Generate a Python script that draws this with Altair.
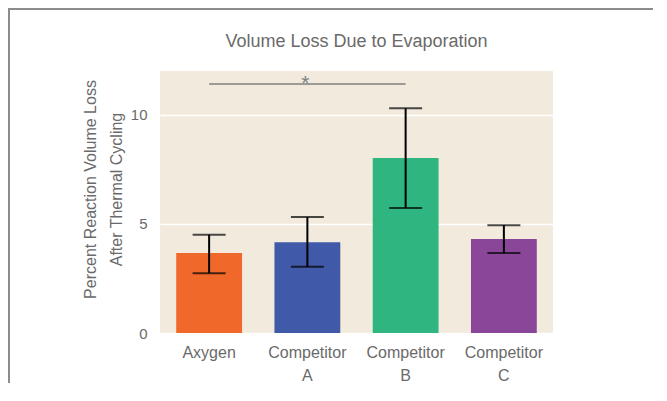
import altair as alt
import pandas as pd

categories = ["Axygen", "Competitor A", "Competitor B", "Competitor C"]
values = [3.66, 4.16, 8.01, 4.31]
err_low = [2.74, 3.03, 5.72, 3.66]
err_high = [4.5, 5.31, 10.29, 4.94]
colors = ["#F0692B", "#4059A8", "#2FB57F", "#8A4799"]
sig_from = "Axygen"
sig_to = "Competitor B"
sig_level = 11.4
sig_mid = "Competitor A"

df = pd.DataFrame({"cat": categories, "val": values, "lo": err_low, "hi": err_high})
sig = pd.DataFrame({"a": [sig_from], "b": [sig_to], "y": [sig_level], "mid": [sig_mid], "t": ["*"]})

TXT = "#6a6a6a"
xscale = alt.Scale(domain=categories, paddingInner=0.33, paddingOuter=0.165)
yscale = alt.Scale(domain=[0, 12], nice=False)

x = alt.X("cat:N", scale=xscale, sort=categories, title=None,
          axis=alt.Axis(labelAngle=0, labelExpr="split(datum.label, ' ')",
                        labelFontSize=16, labelColor=TXT, labelPadding=11,
                        labelLineHeight=23, labelFont="Liberation Sans",
                        domain=False, ticks=False, grid=False))
y = alt.Y("val:Q", scale=yscale,
          title=["Percent Reaction Volume Loss", "After Thermal Cycling"],
          axis=alt.Axis(values=[0, 5, 10], labelFontSize=15, labelColor=TXT,
                        labelPadding=13, labelFont="Liberation Sans",
                        domain=False, ticks=False, grid=True,
                        gridColor="white", gridWidth=1.5,
                        titleFontSize=16, titleFontWeight="normal", titleColor=TXT,
                        titleFont="Liberation Sans",
                        titleX=-65, titleY=118, titleAngle=270,
                        titleBaseline="alphabetic", titleAlign="center",
                        titleLineHeight=26))

base = alt.Chart(df)
bars = base.mark_bar().encode(
    x=x, y=y,
    color=alt.Color("cat:N", scale=alt.Scale(domain=categories, range=colors), legend=None),
)
err = base.mark_rule(color="black", strokeWidth=2).encode(
    x=alt.X("cat:N", scale=xscale, sort=categories),
    y=alt.Y("lo:Q", scale=yscale), y2="hi:Q")
cap_lo = base.mark_tick(color="black", thickness=2, size=33).encode(
    x=alt.X("cat:N", scale=xscale, sort=categories), y=alt.Y("lo:Q", scale=yscale))
cap_hi = base.mark_tick(color="black", thickness=2, size=33).encode(
    x=alt.X("cat:N", scale=xscale, sort=categories), y=alt.Y("hi:Q", scale=yscale))

sline = alt.Chart(sig).mark_rule(color="#7f7f7f", strokeWidth=1.5).encode(
    x=alt.X("a:N", scale=xscale), x2="b:N", y=alt.Y("y:Q", scale=yscale))
star = alt.Chart(sig).mark_text(color="#7f7f7f", fontSize=21, font="Liberation Sans",
                                baseline="alphabetic", dy=6, dx=-2).encode(
    x=alt.X("mid:N", scale=xscale), y=alt.Y("y:Q", scale=yscale), text="t:N")

frame_top = alt.Chart(sig).mark_rule(color="#8c8c8c", strokeWidth=2).encode(
    x=alt.value(-154), x2=alt.value(500), y=alt.value(-62))
frame_left = alt.Chart(sig).mark_rule(color="#8c8c8c", strokeWidth=2).encode(
    x=alt.value(-151), y=alt.value(-62), y2=alt.value(320))

chart = alt.layer(bars, err, cap_lo, cap_hi, sline, star, frame_top, frame_left).properties(
    width=393, height=262,
    title=alt.TitleParams("Volume Loss Due to Evaporation", fontSize=18, fontWeight="normal",
                          color=TXT, font="Liberation Sans", anchor="middle",
                          frame="group", baseline="alphabetic", offset=0, dy=57),
    autosize=alt.AutoSizeParams(type="none"),
    padding={"left": 152, "top": 63, "right": 100, "bottom": 50},
    background="white",
).configure_view(fill="#F2EADD", stroke=None)

chart.save("out.html", embed_options={"renderer": "svg", "actions": False})
